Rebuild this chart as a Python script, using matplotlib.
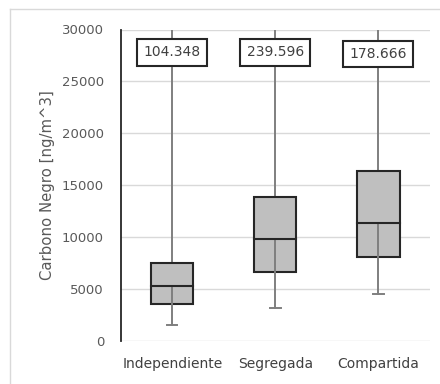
import matplotlib
matplotlib.use("Agg")
import matplotlib.pyplot as plt
from matplotlib.patches import Rectangle
from matplotlib.lines import Line2D

categories = ["Independiente", "Segregada", "Compartida"]
q1 = [3550, 6600, 8080]
medians = [5230, 9760, 11300]
q3 = [7450, 13870, 16350]
mins = [1500, 3160, 4510]
maxs = [104348, 239596, 178666]
max_labels = ["104.348", "239.596", "178.666"]
label_y = [27800, 27800, 27650]
yticks = [0, 5000, 10000, 15000, 20000, 25000, 30000]

W, H = 440, 384
fig = plt.figure(figsize=(W / 100, H / 100), dpi=100)
ax = fig.add_axes([120.7 / W, 1 - 340.5 / H, (430 - 120.7) / W, (340.5 - 29.5) / H])

ax.set_xlim(0.5, 3.5)
ax.set_ylim(0, 30000)

for y in yticks:
    ax.axhline(y, color="#d9d9d9", lw=1.0, zorder=0)

box_w = 0.41
cap_w = 0.1
for i, cat in enumerate(categories):
    x = i + 1
    ax.plot([x, x], [q3[i], min(maxs[i], 30000)], color="#7f7f7f", lw=1.4, zorder=2)
    ax.add_patch(Rectangle((x - box_w / 2, q1[i]), box_w, q3[i] - q1[i],
                           facecolor="#bfbfbf", edgecolor="#262626", lw=1.5, zorder=3))
    ax.plot([x, x], [mins[i], medians[i]], color="#7f7f7f", lw=1.4, zorder=4)
    ax.plot([x - cap_w / 2, x + cap_w / 2], [mins[i], mins[i]], color="#7f7f7f", lw=1.4, zorder=4)
    ax.plot([x - box_w / 2, x + box_w / 2], [medians[i], medians[i]], color="#262626", lw=1.5, zorder=5)
    ax.text(x, label_y[i], max_labels[i], ha="center", va="center", fontsize=10,
            color="#404040", zorder=6,
            bbox=dict(boxstyle="square,pad=0.45", facecolor="white", edgecolor="#262626", lw=1.5))

ax.set_xticks([1, 2, 3])
ax.set_xticklabels(categories, fontsize=10, color="#404040")
ax.set_yticks(yticks)
ax.set_yticklabels([str(v) for v in yticks], fontsize=9.5, color="#595959")
ax.tick_params(axis="both", length=0)
ax.tick_params(axis="y", pad=12)
ax.tick_params(axis="x", pad=12)

for s in ["top", "right", "bottom"]:
    ax.spines[s].set_visible(False)
ax.spines["left"].set_color("#262626")
ax.spines["left"].set_linewidth(1.3)

ax.set_ylabel("Carbono Negro [ng/m^3]", fontsize=10.7, color="#595959", labelpad=5)

fig.add_artist(Line2D([9.5 / W, 1.05], [1 - 9 / H, 1 - 9 / H], color="#d9d9d9", lw=1.0))
fig.add_artist(Line2D([9.5 / W, 9.5 / W], [1 - 9 / H, -0.05], color="#d9d9d9", lw=1.0))

fig.savefig("out.png", dpi=100)
